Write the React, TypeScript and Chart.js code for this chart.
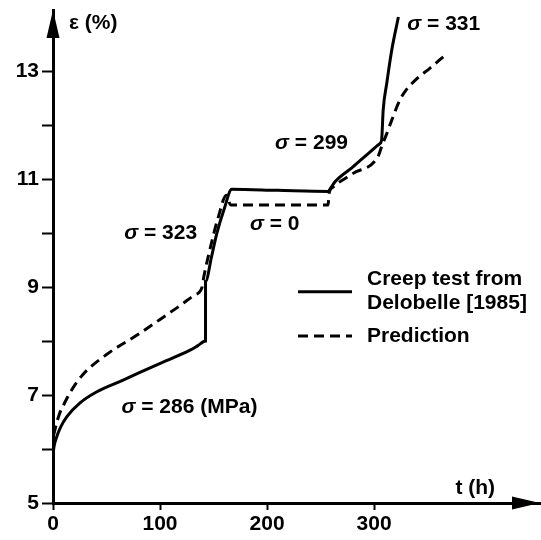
import React, { useEffect, useRef } from "react";
import { Chart, registerables } from "chart.js";

Chart.register(...registerables);

// Creep test (solid)
const testTime = [0, 1, 3, 7, 13, 25, 41, 66, 97, 128, 135, 142.5, 142.5, 148, 153, 160, 167, 210, 257, 260, 263.5, 280, 295, 305, 307, 308.5, 311.8, 316.5, 322.7];
const testStrain = [5.9, 6.05, 6.2, 6.4, 6.6, 6.85, 7.06, 7.28, 7.56, 7.83, 7.91, 8.0, 9.1, 9.55, 9.99, 10.45, 10.81, 10.79, 10.77, 10.85, 10.95, 11.22, 11.48, 11.65, 11.72, 12.28, 12.77, 13.39, 14.0];

// Prediction (dashed)
const predTime = [0.5, 3, 6, 10, 17, 28, 50, 81, 100, 119, 132, 139, 141, 148, 154.5, 162, 166, 257, 258, 261, 280, 304, 307, 312, 316.5, 324, 330, 340, 352, 365];
const predStrain = [6.25, 6.45, 6.65, 6.82, 7.08, 7.38, 7.75, 8.14, 8.4, 8.66, 8.85, 8.98, 9.2, 9.81, 10.3, 10.7, 10.52, 10.52, 10.74, 10.84, 11.1, 11.43, 11.6, 11.85, 12.09, 12.46, 12.65, 12.86, 13.05, 13.27];

const xTickValues = [0, 100, 200, 300];
const yTickValues = [5, 6, 7, 8, 9, 10, 11, 12, 13];
const yLabelValues = [5, 7, 9, 11, 13];

const xMin = 0;
const xMax = 455;
const yMin = 5;
const yMax = 14.13;

const xAxisTitle = "t (h)";
const yAxisTitle = "ε (%)";

const seriesLabels = [["Creep test from", "Delobelle [1985]"], ["Prediction"]];

// Stress annotations (text, time, strain, alignment)
const noteTexts = ["σ = 286 (MPa)", "σ = 323", "σ = 0", "σ = 299", "σ = 331"];
const noteTime = [64, 134.6, 184, 207.5, 331];
const noteStrain = [6.78, 10.0, 10.17, 11.67, 13.87];
const noteAlign = ["left", "right", "left", "left", "left"];

const FONT = "bold 21px 'Liberation Sans', Arial, sans-serif";
const FONT_IT = "italic bold 21px 'Liberation Sans', Arial, sans-serif";

function drawNote(ctx: any, text: string, x: number, y: number, align: string) {
  const hasSigma = text.startsWith("σ");
  const head = hasSigma ? "σ" : "";
  const rest = hasSigma ? text.slice(1) : text;
  ctx.font = FONT_IT;
  const wh = ctx.measureText(head).width;
  ctx.font = FONT;
  const wr = ctx.measureText(rest).width;
  let left = x;
  if (align === "right") left = x - wh - wr;
  else if (align === "center") left = x - (wh + wr) / 2;
  ctx.textAlign = "left";
  if (hasSigma) {
    ctx.font = FONT_IT;
    ctx.fillText(head, left, y);
  }
  ctx.font = FONT;
  ctx.fillText(rest, left + wh, y);
}

const overlayPlugin = {
  id: "overlay",
  afterDraw(chart: any) {
    const ctx = chart.ctx;
    const area = chart.chartArea;
    const xs = chart.scales.x;
    const ys = chart.scales.y;
    ctx.save();
    ctx.fillStyle = "#000";
    ctx.strokeStyle = "#000";
    // arrowheads
    const ax = xs.getPixelForValue(0);
    const ay = ys.getPixelForValue(yMin);
    ctx.beginPath();
    ctx.moveTo(ax, area.top);
    ctx.lineTo(ax - 6.5, area.top + 28);
    ctx.lineTo(ax + 6.5, area.top + 28);
    ctx.closePath();
    ctx.fill();
    ctx.beginPath();
    ctx.moveTo(area.right, ay);
    ctx.lineTo(area.right - 28, ay - 6.5);
    ctx.lineTo(area.right - 28, ay + 6.5);
    ctx.closePath();
    ctx.fill();

    ctx.font = FONT;
    ctx.textBaseline = "middle";
    // axis titles
    drawNote(ctx, yAxisTitle, xs.getPixelForValue(15), ys.getPixelForValue(13.88), "left");
    drawNote(ctx, xAxisTitle, xs.getPixelForValue(376), ys.getPixelForValue(5.28), "left");

    // stress notes
    for (let i = 0; i < noteTexts.length; i++) {
      drawNote(ctx, noteTexts[i], xs.getPixelForValue(noteTime[i]), ys.getPixelForValue(noteStrain[i]), noteAlign[i]);
    }

    // legend
    const ds = chart.data.datasets;
    const legendX = 298;
    const legendW = 54;
    const textX = 367;
    const rows = [291.7, 336];
    ds.forEach((d: any, i: number) => {
      const y = rows[i];
      ctx.beginPath();
      ctx.lineWidth = 3;
      ctx.setLineDash(d.borderDash || []);
      ctx.moveTo(legendX, y);
      ctx.lineTo(legendX + legendW, y);
      ctx.stroke();
      ctx.setLineDash([]);
      ctx.font = FONT;
      ctx.textAlign = "left";
      const lines = seriesLabels[i];
      const lh = 24;
      const y0 = y - ((lines.length - 1) * lh) / 2;
      lines.forEach((l, k) => ctx.fillText(l, textX, y0 + k * lh));
    });
    ctx.restore();
  },
};

export default function App() {
  const ref = useRef<HTMLCanvasElement>(null);
  useEffect(() => {
    if (!ref.current) return;
    const chart = new Chart(ref.current, {
      type: "line",
      data: {
        datasets: [
          {
            label: seriesLabels[0].join(" "),
            data: testTime.map((t, i) => ({ x: t, y: testStrain[i] })),
            borderColor: "#000",
            borderWidth: 3,
            pointRadius: 0,
            cubicInterpolationMode: "monotone",
            fill: false,
          },
          {
            label: seriesLabels[1].join(" "),
            data: predTime.map((t, i) => ({ x: t, y: predStrain[i] })),
            borderColor: "#000",
            borderWidth: 3,
            borderDash: [10, 6],
            pointRadius: 0,
            cubicInterpolationMode: "monotone",
            fill: false,
          },
        ],
      },
      options: {
        animation: false,
        responsive: false,
        maintainAspectRatio: false,
        layout: { padding: { top: 10, right: 1, left: 0, bottom: 0 } },
        plugins: { legend: { display: false }, tooltip: { enabled: false } },
        scales: {
          x: {
            type: "linear",
            min: xMin,
            max: xMax,
            afterBuildTicks: (s: any) => {
              s.ticks = xTickValues.map((v) => ({ value: v }));
            },
            afterFit: (s: any) => {
              s.height = 37;
              s.paddingLeft = 0;
              s.paddingRight = 0;
            },
            border: { display: true, color: "#000", width: 3 },
            grid: { display: true, drawOnChartArea: false, drawTicks: true, tickLength: 7, tickWidth: 2, tickColor: "#000", color: "#000" },
            ticks: { color: "#000", font: { family: "'Liberation Sans'", size: 21, weight: "bold" }, padding: 2, maxRotation: 0, autoSkip: false },
          },
          y: {
            type: "linear",
            min: yMin,
            max: yMax,
            afterBuildTicks: (s: any) => {
              s.ticks = yTickValues.map((v) => ({ value: v }));
            },
            afterFit: (s: any) => {
              s.width = 53;
              s.paddingTop = 0;
              s.paddingBottom = 0;
            },
            border: { display: true, color: "#000", width: 3 },
            grid: { display: true, drawOnChartArea: false, drawTicks: true, tickLength: 11, tickWidth: 2, tickColor: "#000", color: "#000" },
            ticks: {
              color: "#000",
              font: { family: "'Liberation Sans'", size: 21, weight: "bold" },
              padding: 3,
              autoSkip: false,
              callback: (v: any) => (yLabelValues.includes(v) ? String(v) : ""),
            },
          },
        },
      },
      plugins: [overlayPlugin],
    });
    return () => chart.destroy();
  }, []);
  return (
    <div style={{ position: "absolute", left: 0, top: 0, width: 541, height: 540, background: "#fff" }}>
      <canvas ref={ref} width={541} height={540} style={{ width: 541, height: 540 }} />
    </div>
  );
}
